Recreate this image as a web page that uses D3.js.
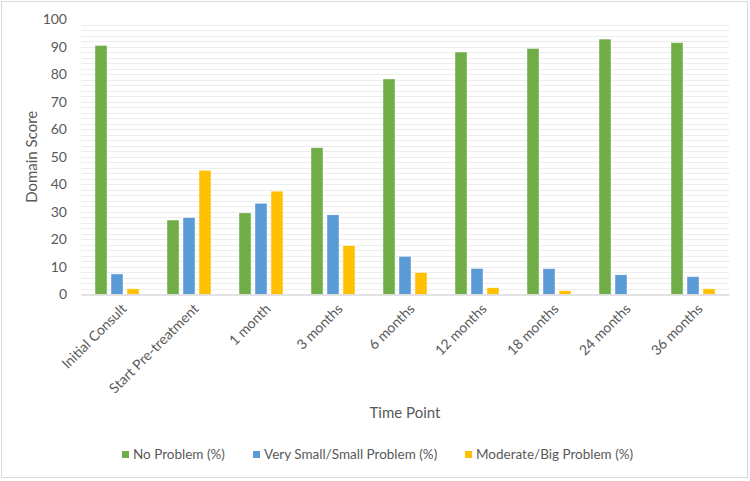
<!DOCTYPE html>
<html>
<head>
<meta charset="utf-8">
<script src="https://cdn.jsdelivr.net/npm/d3@7/dist/d3.min.js"></script>
<style>
  html, body { margin: 0; padding: 0; background: #fff; }
  svg { display: block; }
  text { font-family: Lato, "Open Sans", sans-serif; fill: #595959; }
</style>
</head>
<body>
<svg id="chart" width="750" height="481"></svg>
<script>
const categories = ["Initial Consult", "Start Pre-treatment", "1 month", "3 months", "6 months", "12 months", "18 months", "24 months", "36 months"];
const seriesNames = ["No Problem (%)", "Very Small/Small Problem (%)", "Moderate/Big Problem (%)"];
const noProblem = [90.5, 27.0, 29.6, 53.3, 78.3, 88.1, 89.4, 92.8, 91.5];
const smallProblem = [7.4, 27.9, 33.1, 28.9, 13.8, 9.4, 9.3, 7.1, 6.4];
const bigProblem = [2.0, 45.1, 37.5, 17.7, 7.9, 2.4, 1.3, 0, 2.0];
const seriesColors = ["#70AD47", "#5B9BD5", "#FFC000"];
const yTicks = [0, 10, 20, 30, 40, 50, 60, 70, 80, 90, 100];
const yTitle = "Domain Score";
const xTitle = "Time Point";

const series = [noProblem, smallProblem, bigProblem];
const svg = d3.select("#chart");

svg.append("rect").attr("x", 1.5).attr("y", 1.5).attr("width", 746).attr("height", 476)
  .attr("fill", "#fff").attr("stroke", "#D9D9D9").attr("stroke-width", 1);

const plot = { left: 81, right: 729, top: 19.3, bottom: 294.3 };

const y = d3.scaleLinear().domain([0, 100]).range([plot.bottom, plot.top]);
const x0 = d3.scaleBand().domain(categories).range([plot.left, plot.right])
  .paddingInner(28 / 72).paddingOuter(14 / 72);
const x1 = d3.scaleBand().domain(d3.range(series.length)).range([0, x0.bandwidth()])
  .paddingInner(0.25).paddingOuter(0);

// minor gridlines every 2
const grid = svg.append("g");
grid.selectAll("line").data(d3.range(2, 100, 2))
  .join("line")
  .attr("x1", plot.left).attr("x2", plot.right)
  .attr("y1", d => Math.round(y(d)) + 0.5).attr("y2", d => Math.round(y(d)) + 0.5)
  .attr("stroke", "#EDEDED").attr("stroke-width", 1);

// bars
const groups = svg.append("g").selectAll("g").data(categories).join("g")
  .attr("transform", d => `translate(${x0(d)},0)`);
groups.selectAll("rect")
  .data((c, i) => series.map((s, k) => ({ k, v: s[i] })))
  .join("rect")
  .attr("x", d => x1(d.k))
  .attr("width", x1.bandwidth())
  .attr("y", d => y(d.v))
  .attr("height", d => y(0) - y(d.v))
  .attr("fill", d => seriesColors[d.k])
  .attr("stroke", "#fff").attr("stroke-width", 0.7)
  .attr("stroke-opacity", 0.6);

// x axis line
const xAxis = svg.append("g").attr("transform", `translate(0,${Math.round(plot.bottom) + 0.5})`)
  .call(d3.axisBottom(x0).tickSize(0).tickFormat(""));
xAxis.select(".domain").attr("stroke", "#D9D9D9").attr("stroke-width", 1.5);

// x labels rotated
svg.append("g").selectAll("text").data(categories).join("text")
  .attr("text-anchor", "end")
  .attr("font-size", 14)
  .attr("transform", d => `translate(${x0(d) + x0.bandwidth() / 2 + 7},${plot.bottom + 12}) rotate(-45)`)
  .attr("dy", "0.35em")
  .text(d => d);

// y axis
const yAxis = svg.append("g").attr("transform", `translate(${plot.left},0)`)
  .call(d3.axisLeft(y).tickValues(yTicks).tickSize(0).tickPadding(14));
yAxis.select(".domain").remove();
yAxis.selectAll("text").attr("font-size", 14).attr("fill", "#595959")
  .style("font-family", "Lato, 'Open Sans', sans-serif");

// axis titles
svg.append("text").attr("text-anchor", "middle").attr("font-size", 15)
  .attr("transform", `translate(37,${(plot.top + plot.bottom) / 2}) rotate(-90)`)
  .text(yTitle);
svg.append("text").attr("text-anchor", "middle").attr("font-size", 15)
  .attr("x", (plot.left + plot.right) / 2).attr("y", 418)
  .text(xTitle);

// legend
const legendX = [122, 253, 465];
const legend = svg.append("g").selectAll("g").data(seriesNames).join("g")
  .attr("transform", (d, i) => `translate(${legendX[i]},451)`);
legend.append("rect").attr("width", 7).attr("height", 7).attr("fill", (d, i) => seriesColors[i]);
legend.append("text").attr("x", 11).attr("y", 8).attr("font-size", 13.5).text(d => d);
</script>
</body>
</html>
